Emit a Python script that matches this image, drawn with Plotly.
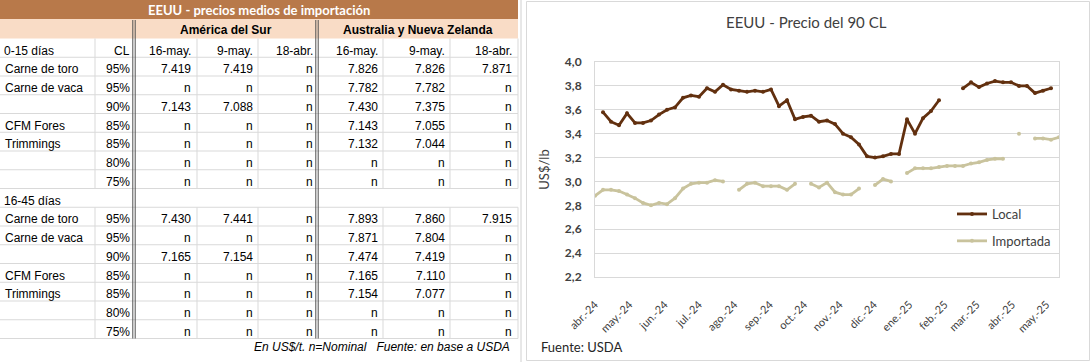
import pandas as pd
import plotly.graph_objects as go

W, H = 1092, 362

# ---------------- chart data ----------------
fechas = pd.date_range("2024-04-05", periods=59, freq="7D")
local = [None, 3.58, 3.50, 3.47, 3.57, 3.49, 3.49, 3.51, 3.56, 3.60,
         3.62, 3.70, 3.72, 3.71, 3.78, 3.75, 3.81, 3.77, 3.76, 3.75,
         3.76, 3.75, 3.77, 3.63, 3.68, 3.52, 3.54, 3.55, 3.50, 3.51,
         3.48, 3.40, 3.37, 3.31, 3.21, 3.20, 3.21, 3.23, 3.23, 3.52,
         3.40, 3.53, 3.59, 3.68, None, None, 3.78, 3.83, 3.79, 3.82,
         3.84, 3.83, 3.83, 3.80, 3.80, 3.74, 3.76, 3.78, None]
importada = [2.88, 2.93, 2.93, 2.92, 2.89, 2.86, 2.82, 2.80, 2.82, 2.81,
             2.86, 2.94, 2.98, 2.99, 2.99, 3.01, 3.00, None, 2.93, 2.98,
             2.99, 2.96, 2.96, 2.96, 2.93, 2.98, None, 2.98, 2.95, 2.99,
             2.91, 2.89, 2.89, 2.94, None, 2.97, 3.02, 3.00, None, 3.07,
             3.11, 3.11, 3.11, 3.12, 3.13, 3.13, 3.13, 3.15, 3.16, 3.18,
             3.19, 3.19, None, 3.40, None, 3.36, 3.36, 3.35, 3.37]
tick_fechas = ["2024-04-05", "2024-05-05", "2024-06-05", "2024-07-05", "2024-08-05",
               "2024-09-05", "2024-10-05", "2024-11-05", "2024-12-05", "2025-01-05",
               "2025-02-05", "2025-03-05", "2025-04-05", "2025-05-05"]
tick_textos = ["abr.-24", "may.-24", "jun.-24", "jul.-24", "ago.-24", "sep.-24", "oct.-24",
               "nov.-24", "dic.-24", "ene.-25", "feb.-25", "mar.-25", "abr.-25", "may.-25"]

# ---------------- table data ----------------
tabla_titulo = "EEUU - precios medios de importación"
regiones = ["América del Sur", "Australia y Nueva Zelanda"]
fechas_tabla = ["16-may.", "9-may.", "18-abr.", "16-may.", "9-may.", "18-abr."]
productos = ["Carne de toro", "Carne de vaca", "", "CFM Fores", "Trimmings", "", ""]
cl = ["95%", "95%", "90%", "85%", "85%", "80%", "75%"]
precios_0_15 = [
    ["7.419", "7.419", "n", "7.826", "7.826", "7.871"],
    ["n", "n", "n", "7.782", "7.782", "n"],
    ["7.143", "7.088", "n", "7.430", "7.375", "n"],
    ["n", "n", "n", "7.143", "7.055", "n"],
    ["n", "n", "n", "7.132", "7.044", "n"],
    ["n", "n", "n", "n", "n", "n"],
    ["n", "n", "n", "n", "n", "n"],
]
precios_16_45 = [
    ["7.430", "7.441", "n", "7.893", "7.860", "7.915"],
    ["n", "n", "n", "7.871", "7.804", "n"],
    ["7.165", "7.154", "n", "7.474", "7.419", "n"],
    ["n", "n", "n", "7.165", "7.110", "n"],
    ["n", "n", "n", "7.154", "7.077", "n"],
    ["n", "n", "n", "n", "n", "n"],
    ["n", "n", "n", "n", "n", "n"],
]
plazos = ["0-15 días", "16-45 días"]
nota = "En US$/t. n=Nominal   Fuente: en base a USDA"


def px(x):
    return x / W


def py(y):
    return 1 - y / H


fig = go.Figure()

C_LOCAL = "#62300F"
C_IMP = "#C9C39D"
fig.add_trace(go.Scatter(x=fechas, y=local, name="Local", mode="lines+markers",
                         line=dict(color=C_LOCAL, width=2.8), marker=dict(size=4, color=C_LOCAL),
                         connectgaps=False, legendgroup="a"))
fig.add_trace(go.Scatter(x=fechas, y=importada, name="Importada", mode="lines+markers",
                         line=dict(color=C_IMP, width=2.8), marker=dict(size=4, color=C_IMP),
                         connectgaps=False, legendgroup="b"))

shapes = []
ann = []

# ---------------- table drawing ----------------
TBL_R = 518
ROW0 = 38.5
RH = 18.75
num_right = [193, 255, 315, 380, 447, 514]
BROWN = "#B8794A"
PEACH = "#F9DCC6"
GRID = "#D9D9D9"

shapes.append(dict(type="rect", xref="paper", yref="paper", x0=px(0), x1=px(TBL_R),
                   y0=py(19), y1=py(0), fillcolor=BROWN, line=dict(width=0), layer="below"))
shapes.append(dict(type="rect", xref="paper", yref="paper", x0=px(0), x1=px(TBL_R),
                   y0=py(ROW0), y1=py(19), fillcolor=PEACH, line=dict(width=0), layer="below"))

nrows = 16
for i in range(1, nrows + 1):
    yy = ROW0 + i * RH
    shapes.append(dict(type="line", xref="paper", yref="paper", x0=px(0), x1=px(TBL_R),
                       y0=py(yy), y1=py(yy), line=dict(color=GRID, width=1)))
for r in range(nrows):
    if r == 8:
        continue
    y0 = ROW0 + r * RH
    for xe in [95, 197, 258, 383, 450, 518]:
        shapes.append(dict(type="line", xref="paper", yref="paper", x0=px(xe), x1=px(xe),
                           y0=py(y0), y1=py(y0 + RH), line=dict(color=GRID, width=1)))
for xe in [134, 317]:
    for d in (-1.2, 1.2):
        shapes.append(dict(type="line", xref="paper", yref="paper", x0=px(xe + d), x1=px(xe + d),
                           y0=py(20), y1=py(ROW0 + nrows * RH), line=dict(color="#505050", width=1)))

TF = "Liberation Sans, Arial, sans-serif"


def txt(x, y, s, anchor="left", size=12, color="#000000", bold=False, italic=False, family=TF):
    if bold:
        s = "<b>" + s + "</b>"
    if italic:
        s = "<i>" + s + "</i>"
    ann.append(dict(xref="paper", yref="paper", x=px(x), y=py(y), text=s, showarrow=False,
                    xanchor=anchor, yanchor="middle", font=dict(family=family, size=size, color=color)))


txt(259, 10, tabla_titulo, anchor="center", size=13, color="#FFFFFF", bold=True,
    family="Lato, Open Sans, sans-serif")
txt(225.5, 29.5, regiones[0], anchor="center", size=12, bold=True)
txt(417.5, 29.5, regiones[1], anchor="center", size=12, bold=True)


def row_y(r):
    return ROW0 + r * RH + 12


for bloque, (plazo, precios) in enumerate([(plazos[0], precios_0_15), (plazos[1], precios_16_45)]):
    base = bloque * 8
    txt(2, row_y(base), plazo)
    if bloque == 0:
        txt(132, row_y(base), "CL", anchor="right")
        for j, f in enumerate(fechas_tabla):
            txt(num_right[j], row_y(base), f, anchor="right")
    for k in range(7):
        r = base + 1 + k
        if productos[k]:
            txt(3, row_y(r), productos[k])
        txt(132, row_y(r), cl[k], anchor="right")
        for j, v in enumerate(precios[k]):
            txt(num_right[j], row_y(r), v, anchor="right")

txt(512, 347, nota, anchor="right", italic=True)

# ---------------- chart panel ----------------
shapes.append(dict(type="line", xref="paper", yref="paper", x0=px(521), x1=px(521), y0=0, y1=1,
                   line=dict(color="#D0D0D0", width=1)))
shapes.append(dict(type="rect", xref="paper", yref="paper", x0=px(526.5), x1=px(1089.5),
                   y0=py(360.5), y1=py(1.5), line=dict(color="#D9D9D9", width=1)))

CF = "Lato, Open Sans, sans-serif"
ann.append(dict(xref="paper", yref="paper", x=px(806), y=py(22), text="EEUU - Precio del 90 CL",
                showarrow=False, xanchor="center", yanchor="middle",
                font=dict(family=CF, size=15, color="#404040")))
ann.append(dict(xref="paper", yref="paper", x=px(539), y=py(347), text="Fuente: USDA",
                showarrow=False, xanchor="left", yanchor="middle",
                font=dict(family=CF, size=13, color="#262626")))

fig.update_layout(
    width=W, height=H, margin=dict(l=0, r=0, t=0, b=0, pad=0, autoexpand=False),
    paper_bgcolor="#FFFFFF", plot_bgcolor="#FFFFFF",
    separators=",.",
    shapes=shapes, annotations=ann,
    showlegend=True,
    legend=dict(x=px(952), y=py(199), xanchor="left", yanchor="top", bgcolor="rgba(0,0,0,0)",
                font=dict(family=CF, size=13, color="#404040"), tracegroupgap=7,
                traceorder="grouped", itemwidth=30),
    xaxis=dict(domain=[px(595), px(1059)], type="date", range=[fechas[0], fechas[-1]],
               tickvals=tick_fechas, ticktext=tick_textos, tickangle=-45,
               tickfont=dict(family=CF, size=11, color="#404040"), showgrid=False,
               showline=True, mirror=True, linecolor="#D9D9D9", ticks="", zeroline=False,
               ticklabelstandoff=16, automargin=False),
    yaxis=dict(domain=[py(277), py(62)], range=[2.2, 4.0], dtick=0.2, tick0=2.2, tickformat=".1f",
               tickfont=dict(family=CF, size=12, color="#404040", weight="bold"),
               gridcolor="#D9D9D9", showline=True, mirror=True, linecolor="#D9D9D9",
               zeroline=False, ticks="", ticklabelstandoff=10, automargin=False,
               title=dict(text="US$/lb", font=dict(family=CF, size=13, color="#404040"), standoff=12)),
)

fig.write_html("out.html", config={"displayModeBar": False},
               post_script="document.body.style.margin='0px';document.body.style.overflow='hidden';")
